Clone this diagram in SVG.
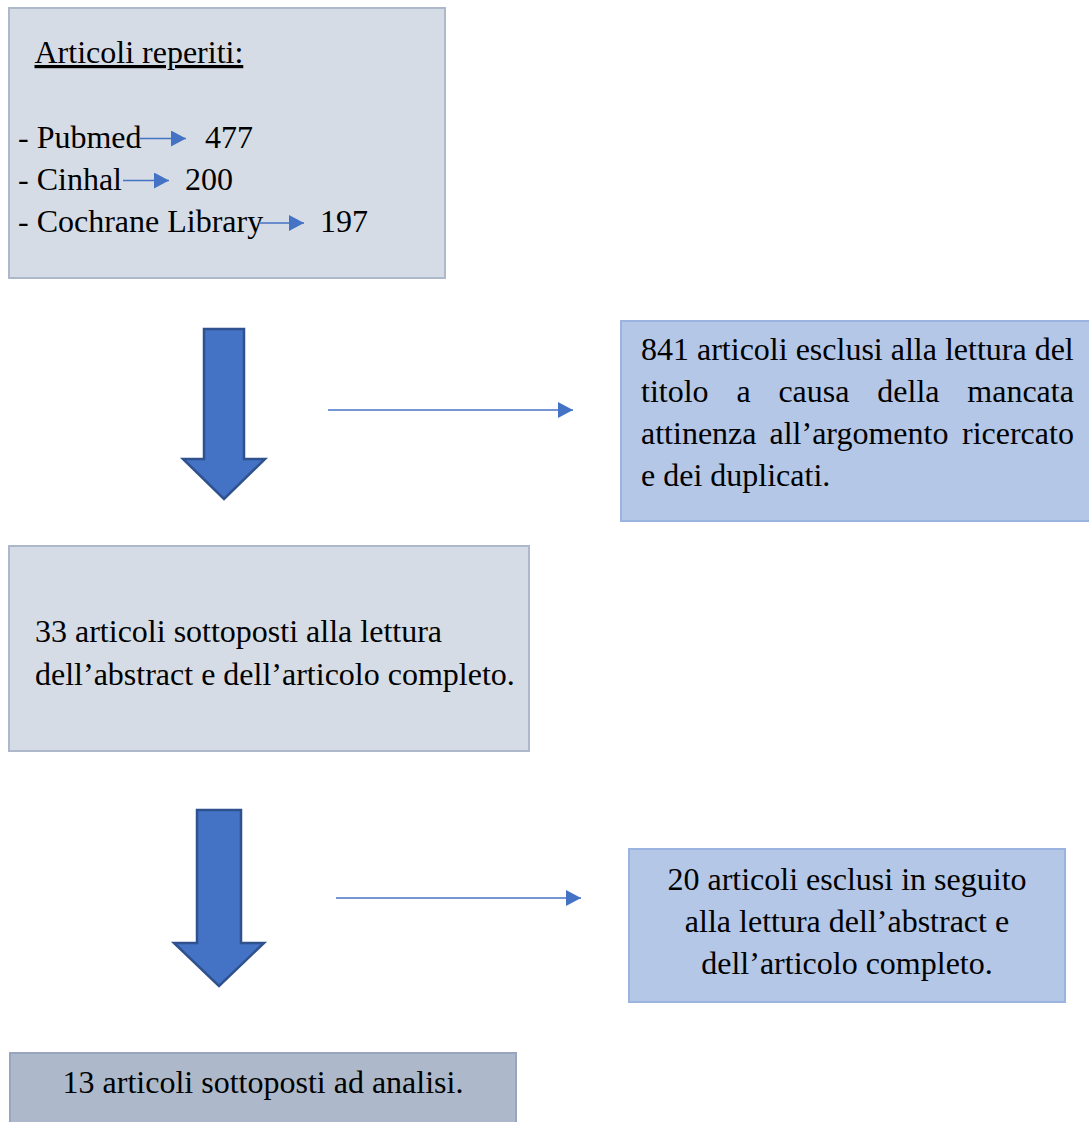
<svg xmlns="http://www.w3.org/2000/svg" width="1089" height="1122" viewBox="0 0 1089 1122">
  <style>
    .t { font-family: "Liberation Serif", "Times New Roman", serif; font-size: 32px; fill: #000; }
    .grey { fill: #D6DCE5; stroke: #ADB9CA; stroke-width: 2; }
    .blue { fill: #B4C7E7; stroke: #9AB3DF; stroke-width: 2; }
    .dark { fill: #ADB9CA; stroke: #97A6BE; stroke-width: 2; }
    .block { fill: #4472C4; stroke: #2F528F; stroke-width: 2.5; stroke-linejoin: miter; }
    .thin { stroke: #4472C4; stroke-width: 1.5; fill: none; marker-end: url(#ah); }
  </style>
  <defs>
    <marker id="ah" markerUnits="userSpaceOnUse" markerWidth="16" markerHeight="16" refX="15" refY="8" orient="auto">
      <path d="M0,0 L15,8 L0,16 z" fill="#4472C4"/>
    </marker>
  </defs>
  <rect width="1089" height="1122" fill="#FFFFFF"/>

  <g id="node-reperiti">
    <rect class="grey" x="9" y="8" width="436" height="270"/>
    <text class="t" x="34.5" y="63" text-decoration="underline">Articoli reperiti:</text>
    <text class="t" x="18" y="148">- Pubmed</text>
    <text class="t" x="205" y="148">477</text>
    <text class="t" x="18" y="190">- Cinhal</text>
    <text class="t" x="185" y="190">200</text>
    <text class="t" x="18" y="232">- Cochrane Library</text>
    <text class="t" x="320" y="232">197</text>
  </g>

  <g id="node-esclusi-titolo">
    <rect class="blue" x="621" y="321" width="480" height="200"/>
    <text class="t" x="641" y="360">841 articoli esclusi alla lettura del</text>
    <text class="t" y="402"><tspan x="641">titolo</tspan><tspan x="736.4">a</tspan><tspan x="778.4">causa</tspan><tspan x="877.3">della</tspan><tspan x="967.3">mancata</tspan></text>
    <text class="t" y="444"><tspan x="641">attinenza</tspan><tspan x="769.5">all’argomento</tspan><tspan x="962">ricercato</tspan></text>
    <text class="t" x="641" y="486">e dei duplicati.</text>
  </g>

  <g id="node-sottoposti-lettura">
    <rect class="grey" x="9" y="546" width="520" height="205"/>
    <text class="t" x="35" y="642">33 articoli sottoposti alla lettura</text>
    <text class="t" x="35" y="685">dell’abstract e dell’articolo completo.</text>
  </g>

  <g id="node-esclusi-abstract">
    <rect class="blue" x="629" y="849" width="436" height="153"/>
    <text class="t" x="847" y="890" text-anchor="middle">20 articoli esclusi in seguito</text>
    <text class="t" x="847" y="932" text-anchor="middle">alla lettura dell’abstract e</text>
    <text class="t" x="847" y="974" text-anchor="middle">dell’articolo completo.</text>
  </g>

  <g id="node-analisi">
    <rect class="dark" x="10" y="1053" width="506" height="80"/>
    <text class="t" x="263" y="1093" text-anchor="middle">13 articoli sottoposti ad analisi.</text>
  </g>

  <g id="connectors">
    <polygon class="block" points="204,329 244,329 244,459 265,459 224,499 183,459 204,459"/>
    <polygon class="block" points="197,810 241,810 241,943 264,943 219,986 174,943 197,943"/>
    <line class="thin" x1="328" y1="410" x2="573" y2="410"/>
    <line class="thin" x1="336" y1="898" x2="581" y2="898"/>
    <line class="thin" x1="140" y1="138.5" x2="186" y2="138.5"/>
    <line class="thin" x1="123" y1="180.5" x2="169" y2="180.5"/>
    <line class="thin" x1="259" y1="223" x2="304" y2="223"/>
  </g>
</svg>
